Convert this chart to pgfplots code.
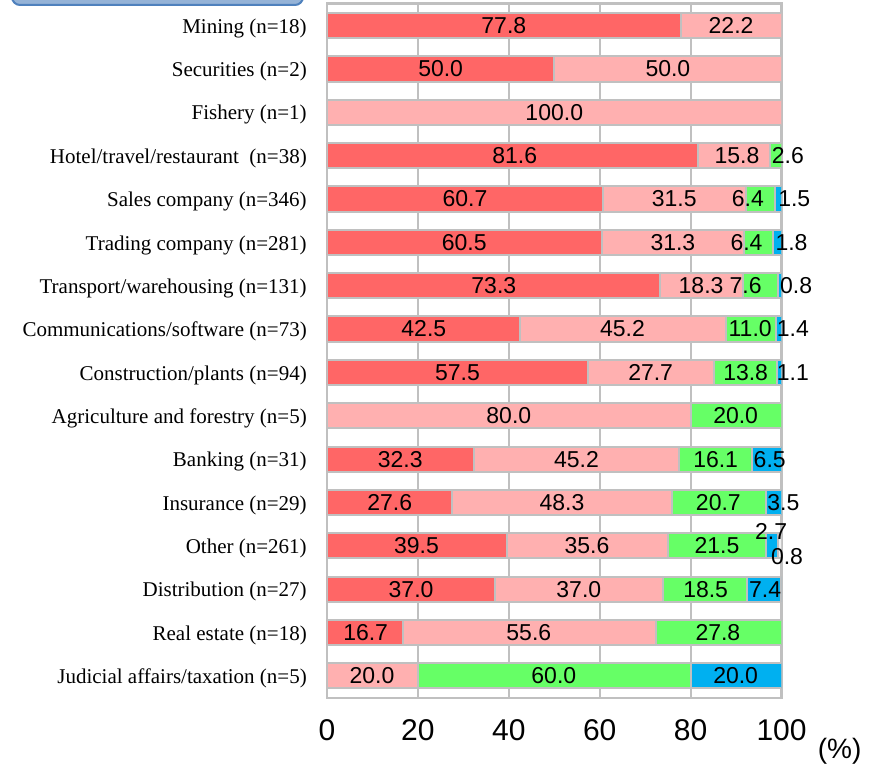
\documentclass[border=0pt]{standalone}
\usepackage{pgfplots}
\pgfplotsset{compat=1.18}
\usepackage{pgfplotstable}
\usepackage{fontspec}
\setmainfont{Liberation Serif}
\newfontfamily\arialf{Liberation Sans}
\definecolor{cred}{HTML}{FF6666}
\definecolor{cpink}{HTML}{FFB0B0}
\definecolor{cgreen}{HTML}{66FF66}
\definecolor{cblue}{HTML}{00B0F0}
\definecolor{cgrid}{HTML}{C0C0C0}
\definecolor{boxfill}{HTML}{95B3D7}
\definecolor{boxdraw}{HTML}{4F81BD}

\pgfplotstableread{
y  a    b     c    d    e
0  77.8 22.2  0    0    0
1  50.0 50.0  0    0    0
2  0    100.0 0    0    0
3  81.6 15.8  2.6  0    0
4  60.7 31.5  6.4  1.5  0
5  60.5 31.3  6.4  1.8  0
6  73.3 18.3  7.6  0.8  0
7  42.5 45.2  11.0 1.4  0
8  57.5 27.7  13.8 1.1  0
9  0    80.0  20.0 0    0
10 32.3 45.2  16.1 6.5  0
11 27.6 48.3  20.7 3.5  0
12 39.5 35.6  21.5 2.7  0.8
13 37.0 37.0  18.5 7.4  0
14 16.7 55.6  27.8 0    0
15 0    20.0  60.0 20.0 0
}\bars

\pgfplotstableread{
x     y      lab
38.9  0      77.8
88.9  0      22.2
25.0  1      50.0
75.0  1      50.0
50.0  2      100.0
41.3  3      81.6
90.2  3      15.8
101.4 3      2.6
30.35 4      60.7
76.4  4      31.5
92.6  4      6.4
102.8 4      1.5
30.2  5      60.5
76.1  5      31.3
92.3  5      6.4
102.2 5      1.8
36.7  6      73.3
82.3  6      18.3
92.1  6      7.6
103.2 6      0.8
21.3  7      42.5
65.0  7      45.2
93.1  7      11.0
102.5 7      1.4
28.7  8      57.5
71.2  8      27.7
92.1  8      13.8
102.5 8      1.1
40.0  9      80.0
89.9  9      20.0
16.1  10     32.3
54.9  10     45.2
85.5  10     16.1
97.4  10     6.5
13.8  11     27.6
51.7  11     48.3
86.1  11     20.7
100.4 11     3.5
19.7  12     39.5
57.2  12     35.6
85.8  12     21.5
97.7  11.68  2.7
101.2 12.24  0.8
18.5  13     37.0
55.4  13     37.0
83.3  13     18.5
96.4  13     7.4
8.5   14     16.7
44.4  14     55.6
86.0  14     27.8
9.9   15     20.0
49.9  15     60.0
89.9  15     20.0
}\labels

\begin{document}
\begin{tikzpicture}
\useasboundingbox (-245.25pt,-54pt) rectangle (412.5pt,523.5pt);
\pgfplotsset{
  common/.style={
    scale only axis,
    width=340.9pt, height=520.9pt,
    at={(0,0)}, anchor=south west,
    xmin=0, xmax=100,
    ymin=-0.51, ymax=15.51,
    y dir=reverse,
  }
}
\begin{axis}[
  common,
  xbar stacked,
  bar width=0.58,
  axis line style={draw=cgrid, line width=1.6pt},
  xmajorgrids,
  grid style={draw=cgrid, line width=1.6pt},
  xtick={0,20,40,60,80,100},
  major tick length=0pt,
  ytick={0,...,15},
  yticklabels={Mining (n=18), Securities (n=2), Fishery (n=1), Hotel/travel/restaurant\ \ (n=38), Sales company (n=346), Trading company (n=281), Transport/warehousing (n=131), Communications/software (n=73), Construction/plants (n=94), Agriculture and forestry (n=5), Banking (n=31), Insurance (n=29), Other (n=261), Distribution (n=27), Real estate (n=18), Judicial affairs/taxation (n=5)},
  yticklabel style={font=\fontsize{15.75}{18}\selectfont, inner sep=0pt, xshift=-15pt, yshift=-2pt},
  xticklabel style={font=\arialf\fontsize{22.5}{26}\selectfont, inner sep=0pt, yshift=-16pt},
  /pgf/number format/assume math mode=true,
  every axis plot/.append style={draw=cgrid, line width=1.5pt},
]
\addplot[fill=cred] table[x=a, y=y] {\bars};
\addplot[fill=cpink] table[x=b, y=y] {\bars};
\addplot[fill=cgreen] table[x=c, y=y] {\bars};
\addplot[fill=cblue] table[x=d, y=y] {\bars};
\addplot[fill=gray!12] table[x=e, y=y] {\bars};
\end{axis}
\begin{axis}[
  common,
  hide axis,
  clip=false,
]
\addplot[only marks, mark=none, nodes near coords, point meta=explicit symbolic,
  every node near coord/.append style={anchor=center, inner sep=0pt, font=\arialf\fontsize{17.25}{20}\selectfont, text=black}]
  table[x=x, y=y, meta=lab] {\labels};
\node[anchor=north west, inner sep=0pt, font=\arialf\fontsize{21}{24}\selectfont] at (rel axis cs:1,0) [xshift=27pt, yshift=-30pt] {(\%)};
\end{axis}
\draw[rounded corners=6pt, fill=boxfill, draw=boxdraw, line width=1.5pt] (-236.25pt,519.75pt) rectangle (-18pt,560pt);
\end{tikzpicture}
\end{document}
